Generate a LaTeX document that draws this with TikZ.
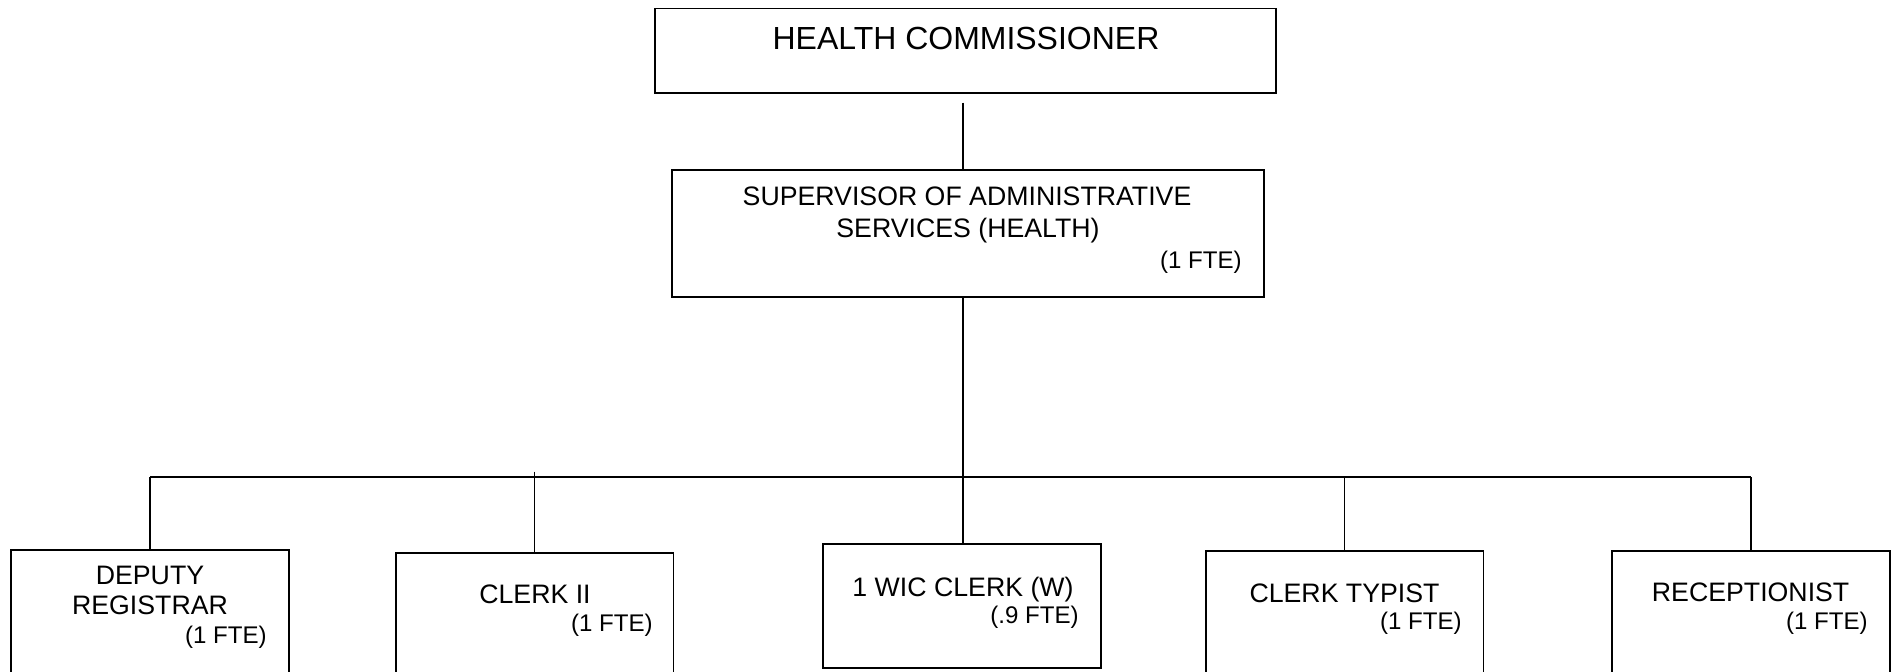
\documentclass[tikz,border=0pt]{standalone}
\usepackage{fontspec}
\setmainfont{Liberation Sans}
\usepackage{tikz}

\begin{document}
\begin{tikzpicture}
  [x=0.02cm, y=-0.02cm,
   box/.style={draw, line width=1.1pt, inner sep=0pt},
   staffbox/.style={box, anchor=north, minimum width=5.56cm, minimum height=3cm},
   link/.style={draw, line width=0.9pt},
   title/.style={inner sep=0pt, anchor=base, font=\fontsize{18.2pt}{21pt}\selectfont},
   post/.style={inner sep=0pt, anchor=base, font=\fontsize{15.2pt}{17.5pt}\selectfont},
   fte/.style={inner sep=0pt, anchor=base east, font=\fontsize{13.7pt}{16pt}\selectfont}]
  \useasboundingbox (0, 0) rectangle (1895, 672);
  \clip (0, 0) rectangle (1895, 672);
  \node[box, minimum width=12.42cm, minimum height=1.69cm] (hc) at (965.5, 50.75) {};
  \node[title] (hcname) at (966, 50) {HEALTH COMMISSIONER};
  \node[box, minimum width=11.84cm, minimum height=2.54cm] (sup) at (968, 233.5) {};
  \node[post] (supname) at (967, 206) {SUPERVISOR OF ADMINISTRATIVE};
  \node[post] (supname2) at (968, 237) {SERVICES (HEALTH)};
  \node[fte] (supfte) at (1242, 268) {(1 FTE)};
  % staff boxes
  \node[staffbox] (dep) at (150, 549) {};
  \node[staffbox] (clerk) at (534.5, 552) {};
  \node[staffbox, minimum height=2.48cm] (wic) at (962, 543) {};
  \node[staffbox] (typist) at (1344.5, 550) {};
  \node[staffbox] (recep) at (1751, 550) {};
  \node[post] (depname) at (150, 584) {DEPUTY};
  \node[post] (depname2) at (150, 614) {REGISTRAR};
  \node[fte] (depfte) at (267, 643) {(1 FTE)};
  \node[post] (clerkname) at (535, 603) {CLERK II};
  \node[fte] (clerkfte) at (653, 631) {(1 FTE)};
  \node[post] (wicname) at (963, 596) {1 WIC CLERK (W)};
  \node[fte] (wicfte) at (1079, 623) {(.9 FTE)};
  \node[post] (typistname) at (1344.5, 602) {CLERK TYPIST};
  \node[fte] (typistfte) at (1462, 629) {(1 FTE)};
  \node[post] (recepname) at (1750.6, 601) {RECEPTIONIST};
  \node[fte] (recepfte) at (1868, 629) {(1 FTE)};
  % spine and bus
  \coordinate (bus) at (963, 477);
  \draw[link, shorten <=5pt] (bus |- hc.south) -- (bus |- sup.north);
  \draw[link] (bus |- sup.south) -- (bus);
  \draw[link] (dep.north |- bus) -- (recep.north |- bus);
  \draw[link] (dep.north |- bus) -- (dep.north);
  \draw[link] ([yshift=3pt]clerk.north |- bus) -- (clerk.north);
  \draw[link] (bus) -- (bus |- wic.north);
  \draw[link] (typist.north |- bus) -- (typist.north);
  \draw[link] (recep.north |- bus) -- (recep.north);
\end{tikzpicture}
\end{document}
